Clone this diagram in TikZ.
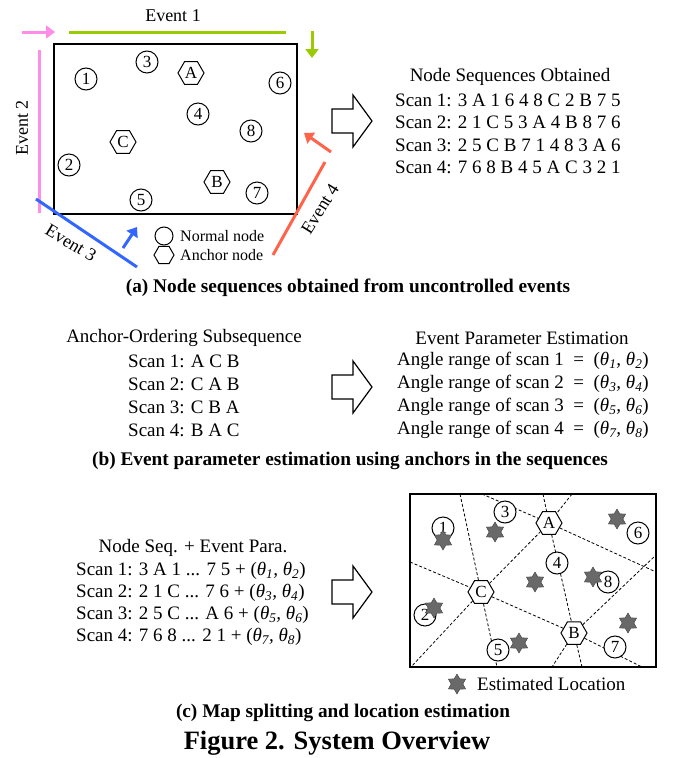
\documentclass[tikz,border=0pt]{standalone}
\usepackage{fontspec}
\setmainfont{Liberation Serif}
\usepackage{xcolor}
\usetikzlibrary{shapes.geometric,arrows.meta}

\definecolor{evgreen}{RGB}{153,204,0}
\definecolor{evpink}{RGB}{255,140,230}
\definecolor{evblue}{RGB}{51,102,255}
\definecolor{evred}{RGB}{255,100,75}
\definecolor{stargray}{RGB}{105,105,105}

% angle pair of one scan
\newcommand{\thpair}[2]{(\textit{θ\textsubscript{#1}, θ\textsubscript{#2}})}

\tikzset{
  nnode/.style={draw,circle,line width=1pt,fill=white,minimum size=22pt,inner sep=0pt,font=\fontsize{17}{17}\selectfont},
  anode/.style={draw,regular polygon,regular polygon sides=6,line width=1pt,fill=white,minimum size=26pt,inner sep=0pt,font=\fontsize{17}{17}\selectfont},
  estloc/.style={draw=black!75,fill=stargray,star,star points=6,star point ratio=1.7,minimum size=20pt,inner sep=0pt},
  evline/.style={line width=3pt},
  evarrow/.style={line width=3pt,-{Triangle[length=9pt,width=13pt]}},
  cut/.style={dash pattern=on 3pt off 2pt,line width=0.8pt},
  txt/.style={anchor=west,inner sep=0pt},
  captxt/.style={inner sep=0pt,font=\bfseries\fontsize{19.3}{22}\selectfont}
}

\begin{document}
\begin{tikzpicture}[x=1pt,y=-1pt,font=\fontsize{19}{22}\selectfont]
    \useasboundingbox (0,0) rectangle (676,758);
    %field of the first part
    \draw[line width=1.3pt] (54,44) rectangle (297,214);
    \node[nnode] (n1) at (86,79) {1};
    \node[nnode] (n3) at (147,62) {3};
    \node[anode] (nA) at (191,73) {A};
    \node[nnode] (n6) at (280,83) {6};
    \node[nnode] (n4) at (198,114) {4};
    \node[nnode] (n8) at (251,131) {8};
    \node[anode] (nC) at (123,142) {C};
    \node[nnode] (n2) at (69,165) {2};
    \node[anode] (nB) at (217,182) {B};
    \node[nnode] (n5) at (141,200) {5};
    \node[nnode] (n7) at (257,193) {7};
    %events
    \draw[evline,evgreen] (69,32) -- (286,32);
    \draw[evarrow,evgreen] (312,31) -- (312,58);
    \node[font=\fontsize{18}{18}\selectfont] (ev1) at (173,16) {Event 1};
    \draw[evline,evpink] (39,50) -- (39,213);
    \draw[evarrow,evpink] (22,32) -- (55,32);
    \node[rotate=90,font=\fontsize{18}{18}\selectfont] (ev2) at (22,128) {Event 2};
    \draw[evline,evblue] (36,199) -- (137,267);
    \draw[evarrow,evblue] (123,248) -- (137,227);
    \node[rotate=-31,font=\fontsize{18}{18}\selectfont] (ev3) at (71,243) {Event 3};
    \draw[evline,evred] (273,255) -- (325,162);
    \draw[evarrow,evred] (331,152) -- (304,133);
    \node[rotate=58,font=\fontsize{18}{18}\selectfont] (ev4) at (320,209) {Event 4};
    %legend
    \node[nnode,minimum size=18pt] (lgn) at (164,236) {};
    \node[txt,font=\fontsize{16}{16}\selectfont] (lgntxt) at (180,236) {Normal node};
    \node[anode,minimum size=20pt] (lga) at (164,255) {};
    \node[txt,font=\fontsize{16}{16}\selectfont] (lgatxt) at (180,255) {Anchor node};

    %hollow arrows
    \foreach \y in {121,387,592}
      \draw[line width=1.2pt] (332,\y-12) -- (353,\y-12) -- (353,\y-26) -- (372,\y)
        -- (353,\y+26) -- (353,\y+12) -- (332,\y+12) -- cycle;

    %sequences of the first part
    \node (seqtitle) at (510,77) {Node Sequences Obtained};
    \node[txt] (seq1) at (395,100) {Scan 1: 3 A 1 6 4 8 C 2 B 7 5};
    \node[txt] (seq2) at (395,122.5) {Scan 2: 2 1 C 5 3 A 4 B 8 7 6};
    \node[txt] (seq3) at (395,145) {Scan 3: 2 5 C B 7 1 4 8 3 A 6};
    \node[txt] (seq4) at (395,167) {Scan 4: 7 6 8 B 4 5 A C 3 2 1};
    \node[captxt] (capa) at (348,288) {(a) Node sequences obtained from uncontrolled events};

    %second part
    \node (subtitle) at (184,338) {Anchor-Ordering Subsequence};
    \node[txt] (sub1) at (128,361) {Scan 1: A C B};
    \node[txt] (sub2) at (128,384) {Scan 2: C A B};
    \node[txt] (sub3) at (128,407) {Scan 3: C B A};
    \node[txt] (sub4) at (128,430) {Scan 4: B A C};
    \node (partitle) at (522,338) {Event Parameter Estimation};
    \node[txt] (par1) at (397,361) {Angle range of scan 1 \ = \ \thpair{1}{2}};
    \node[txt] (par2) at (397,384) {Angle range of scan 2 \ = \ \thpair{3}{4}};
    \node[txt] (par3) at (397,407) {Angle range of scan 3 \ = \ \thpair{5}{6}};
    \node[txt] (par4) at (397,430) {Angle range of scan 4 \ = \ \thpair{7}{8}};
    \node[captxt] (capb) at (350,461) {(b) Event parameter estimation using anchors in the sequences};

    %third part
    \node (mixtitle) at (193,548) {Node Seq. + Event Para.};
    \node[txt] (mix1) at (76,571) {Scan 1: 3 A 1 ... 7 5 + \thpair{1}{2}};
    \node[txt] (mix2) at (76,593) {Scan 2: 2 1 C ... 7 6 + \thpair{3}{4}};
    \node[txt] (mix3) at (76,615) {Scan 3: 2 5 C ... A 6 + \thpair{5}{6}};
    \node[txt] (mix4) at (76,637) {Scan 4: 7 6 8 ... 2 1 + \thpair{7}{8}};

    %map border and cut points
    \draw[line width=1.3pt] (410,494) rectangle (656,667);
    \coordinate (t1) at (460,494);
    \coordinate (t2) at (482,494);
    \coordinate (t3) at (543,494);
    \coordinate (t4) at (572,494);
    \coordinate (l1) at (410,562);
    \coordinate (r1) at (656,555);
    \coordinate (r2) at (656,572);
    \coordinate (b1) at (411,667);
    \coordinate (b2) at (497,667);
    \coordinate (b3) at (552,667);
    \coordinate (b4) at (582,667);
    \coordinate (b5) at (642,667);
    %map nodes
    \node[anode] (mA) at (549,523) {A};
    \node[anode] (mC) at (481,592) {C};
    \node[anode] (mB) at (574,633) {B};
    \draw[cut] (t1) -- (mC);
    \draw[cut] (l1) -- (mC);
    \draw[cut] (mC) -- (mA);
    \draw[cut] (t2) -- (mA);
    \draw[cut] (t3) -- (mA);
    \draw[cut] (t4) -- (mA);
    \draw[cut] (mA) -- (r2);
    \draw[cut] (mA) -- (mB);
    \draw[cut] (mC) -- (mB);
    \draw[cut] (mC) -- (b1);
    \draw[cut] (mC) -- (b2);
    \draw[cut] (mB) -- (b3);
    \draw[cut] (mB) -- (b4);
    \draw[cut] (mB) -- (b5);
    \draw[cut] (mB) -- (r1);
    \node[nnode] (m1) at (443,528) {1};
    \node[nnode] (m3) at (505,512) {3};
    \node[nnode] (m6) at (638,533) {6};
    \node[nnode] (m4) at (557,563) {4};
    \node[nnode] (m8) at (608,582) {8};
    \node[nnode] (m2) at (425,615) {2};
    \node[nnode] (m7) at (615,647) {7};
    \node[nnode] (m5) at (498,650) {5};
    %estimated locations
    \node[estloc] (s1) at (443,540) {};
    \node[estloc] (s3) at (495,532) {};
    \node[estloc] (s6) at (617,519) {};
    \node[estloc] (s4) at (535,582) {};
    \node[estloc] (s8) at (593,577) {};
    \node[estloc] (s2) at (434,608) {};
    \node[estloc] (s7) at (628,623) {};
    \node[estloc] (s5) at (519,643) {};
    \node[estloc] (lgs) at (457,684) {};
    \node[txt] (lgstxt) at (477,684) {Estimated Location};

    \node[captxt] (capc) at (343,713) {(c) Map splitting and location estimation};
    \node[inner sep=0pt,font=\bfseries\fontsize{26.5}{30}\selectfont] (figtitle) at (337,743) {Figure 2. System Overview};
\end{tikzpicture}
\end{document}
